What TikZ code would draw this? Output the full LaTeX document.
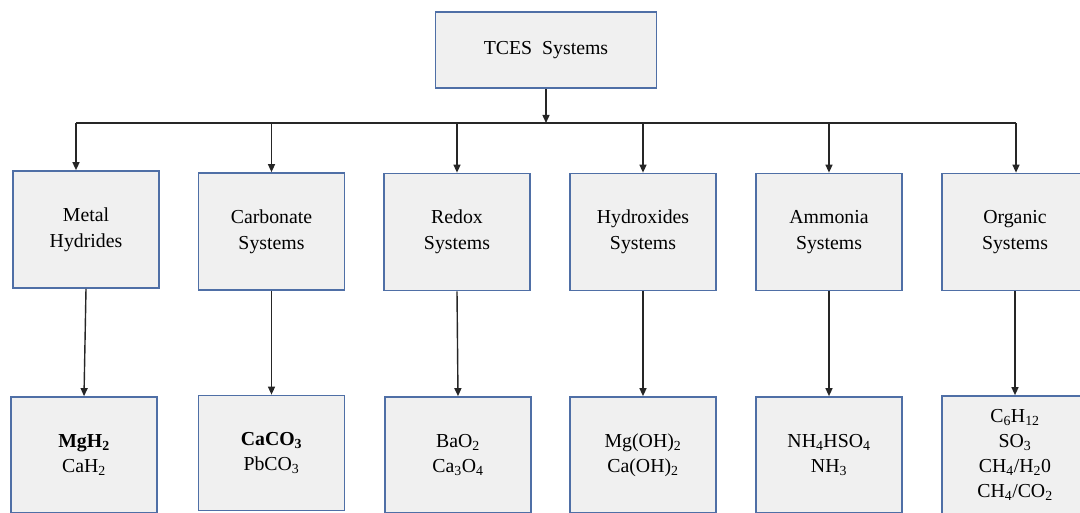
\documentclass[tikz,border=0pt]{standalone}
\usepackage{fontspec}
\setmainfont{Liberation Serif}
\usetikzlibrary{arrows.meta}
\definecolor{boxfill}{HTML}{F0F0F0}
\definecolor{boxline}{HTML}{4F6FA6}
\newcommand{\chsub}[1]{\textsubscript{#1}}
\begin{document}
\begin{tikzpicture}[x=1pt,y=-1pt,
  box/.style={draw=boxline,line width=1.7pt,fill=boxfill,minimum width=146pt,minimum height=117pt,
    align=center,font=\fontsize{19.8}{26}\selectfont,inner sep=0pt},
  chem/.style={box,font=\fontsize{19.8}{25}\selectfont},
  arr/.style={-{Triangle[length=8pt,width=7pt]},line width=1.4pt,black!85},
  bus/.style={line width=1.4pt,black!85}]
\useasboundingbox (0,0) rectangle (1080,513);
% top
\node[box,minimum width=221pt,minimum height=76pt] (top) at (546,50) {TCES~~Systems};
% middle row
\node[box] (m1) at (86,229.5) {Metal\\Hydrides};
\node[box] (m2) at (271.5,231.5) {Carbonate\\Systems};
\node[box] (m3) at (457,232) {Redox\\Systems};
\node[box] (m4) at (643,232) {Hydroxides\\Systems};
\node[box] (m5) at (829,232) {Ammonia\\Systems};
\node[box] (m6) at (1015,232) {Organic\\Systems};
% bottom row
\node[chem,minimum height=116pt] (b1) at (84,455) {\textbf{MgH\chsub{2}}\\CaH\chsub{2}};
\node[chem,minimum height=115pt] (b2) at (271.5,453) {\textbf{CaCO\chsub{3}}\\PbCO\chsub{3}};
\node[chem,minimum height=116pt] (b3) at (458,455) {BaO\chsub{2}\\Ca\chsub{3}O\chsub{4}};
\node[chem,minimum height=116pt] (b4) at (643,455) {Mg(OH)\chsub{2}\\Ca(OH)\chsub{2}};
\node[chem,minimum height=116pt] (b5) at (829,455) {NH\chsub{4}HSO\chsub{4}\\NH\chsub{3}};
\node[chem,minimum height=118pt] (b6) at (1015,455) {C\chsub{6}H\chsub{12}\\SO\chsub{3}\\CH\chsub{4}/H\chsub{2}0\\CH\chsub{4}/CO\chsub{2}};
% bus
\coordinate (busL) at (76,123);
\coordinate (busR) at (1016,123);
\draw[bus] (busL) -- (busR);
\draw[arr] (top.south) -- (top.south |- busL);
\draw[arr] (busL) -- (busL |- m1.north);
\draw[arr] (m2.north |- busL) -- (m2.north);
\draw[arr] (m3.north |- busL) -- (m3.north);
\draw[arr] (m4.north |- busL) -- (m4.north);
\draw[arr] (m5.north |- busL) -- (m5.north);
\draw[arr] (busR) -- (busR |- m6.north);
% middle to bottom
\draw[arr] (m1.south) -- (b1.north);
\draw[arr] (m2.south) -- (b2.north);
\draw[arr] (m3.south) -- (b3.north);
\draw[arr] (m4.south) -- (b4.north);
\draw[arr] (m5.south) -- (b5.north);
\draw[arr] (m6.south) -- (b6.north);
\end{tikzpicture}
\end{document}
